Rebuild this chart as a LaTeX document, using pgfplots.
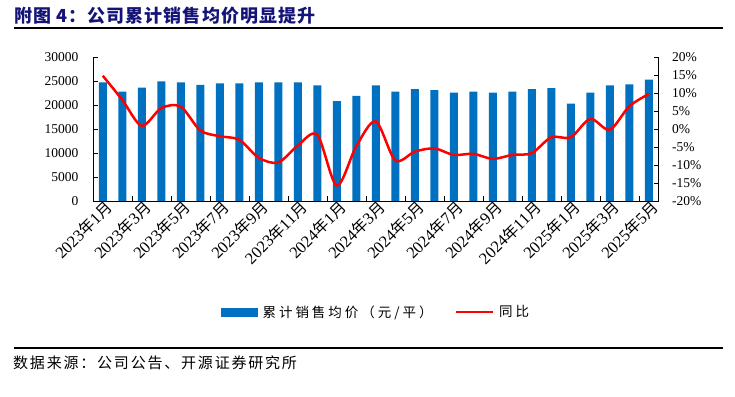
\documentclass[border=0pt]{standalone}
\usepackage{fontspec}
\usepackage{pgfplots}
\pgfplotsset{compat=1.18}
\setmainfont{Liberation Serif}
\newfontfamily\cjk[LetterSpace=22]{Noto Sans CJK SC}
\newfontfamily\cjks[LetterSpace=12]{Noto Sans CJK SC}
\newfontfamily\cjktt[LetterSpace=6]{Noto Sans CJK SC}
\newfontfamily\cjkl[LetterSpace=15]{Noto Sans CJK SC}
\definecolor{barblue}{RGB}{0,112,192}
\definecolor{titleblue}{RGB}{20,20,120}
\newcommand{\lab}[2]{#1{\cjkl\fontsize{15.5}{15.5}\selectfont 年}#2{\cjkl\fontsize{15.5}{15.5}\selectfont 月}}

\pgfplotstableread{
x price yoy
0 24700 14.8
1 22800 8.1
2 23600 0.9
3 24900 5.8
4 24700 6.2
5 24200 -0.4
6 24500 -2.0
7 24500 -3.0
8 24700 -8.0
9 24700 -9.3
10 24700 -4.6
11 24100 -1.6
12 20800 -15.7
13 21900 -4.8
14 24100 2.1
15 22800 -8.7
16 23300 -6.3
17 23100 -5.4
18 22600 -7.2
19 22800 -6.9
20 22600 -8.3
21 22800 -7.2
22 23300 -6.7
23 23500 -2.3
24 20300 -2.3
25 22600 2.8
26 24100 -0.2
27 24300 6.3
28 25300 9.7
}\datatable

\begin{document}
\begin{tikzpicture}
\useasboundingbox (0pt,0pt) rectangle (735pt,396pt);
\node[anchor=west, inner sep=0pt, text=titleblue, font=\cjktt\bfseries\fontsize{18}{18}\selectfont] at (14pt,380pt) {附图 4：公司累计销售均价明显提升};
\draw[line width=1.2pt] (14pt,368pt) -- (723pt,368pt);
\draw[line width=1.2pt] (14pt,48pt) -- (723pt,48pt);
\node[anchor=west, inner sep=0pt, font=\cjks\fontsize{15}{15}\selectfont] at (13pt,33pt) {数据来源：公司公告、开源证券研究所};

\pgfplotsset{
  base/.style={
    at={(93pt,195pt)}, anchor=south west, scale only axis,
    width=565.5pt, height=144pt,
    xmin=-0.5, xmax=28.5,
    tick align=inside, major tick length=5pt, minor tick length=5pt,
    tick style={black, line width=0.8pt},
    axis line style={black, line width=0.8pt},
    /pgf/number format/assume math mode=true,
    /pgf/number format/1000 sep={},
    ticklabel style={font=\fontsize{13.5}{13.5}\selectfont},
  }
}
\begin{axis}[base,
  axis y line*=left, axis x line*=bottom,
  ymin=0, ymax=30000, ytick={0,5000,...,30000},
  scaled y ticks=false,
  yticklabel style={xshift=-11pt},
  xtick={0,2,...,28},
  major x tick style={draw=none},
  minor xtick={1.5,3.5,...,27.5},
  xticklabels={\lab{2023}{1},\lab{2023}{3},\lab{2023}{5},\lab{2023}{7},\lab{2023}{9},\lab{2023}{11},\lab{2024}{1},\lab{2024}{3},\lab{2024}{5},\lab{2024}{7},\lab{2024}{9},\lab{2024}{11},\lab{2025}{1},\lab{2025}{3},\lab{2025}{5}},
  xticklabel style={rotate=45, anchor=east, yshift=-7pt, xshift=3pt, inner sep=1pt, font=\fontsize{16.5}{16.5}\selectfont},
]
\addplot[ybar, bar width=8pt, fill=barblue, draw=none] table[x=x, y=price] {\datatable};
\end{axis}
\begin{axis}[base,
  axis y line*=right, axis x line=none,
  ymin=-20, ymax=20, ytick={-20,-15,...,20},
  yticklabel={\pgfmathprintnumber{\tick}\%},
  yticklabel style={xshift=10pt},
  legend columns=2,
  legend style={draw=none, fill=none, inner sep=0pt, at={(0.2263,-0.771)}, anchor=west,
    font=\cjk\fontsize{13.5}{13.5}\selectfont,
    nodes={inner sep=0pt},
    /tikz/every even column/.append style={column sep=22pt},
    /tikz/every odd column/.append style={column sep=5pt}},
]
\addlegendimage{legend image code/.code={\fill[barblue] (0pt,-4pt) rectangle (36pt,4pt);}}
\addlegendentry{累计销售均价（元/平）}
\addplot[red, line width=2.5pt, smooth, tension=0.5,
  legend image code/.code={\draw[red, line width=2.5pt] (0pt,0pt) -- (37pt,0pt);}]
  table[x=x, y=yoy] {\datatable};
\addlegendentry{同比}
\end{axis}
\end{tikzpicture}
\end{document}
